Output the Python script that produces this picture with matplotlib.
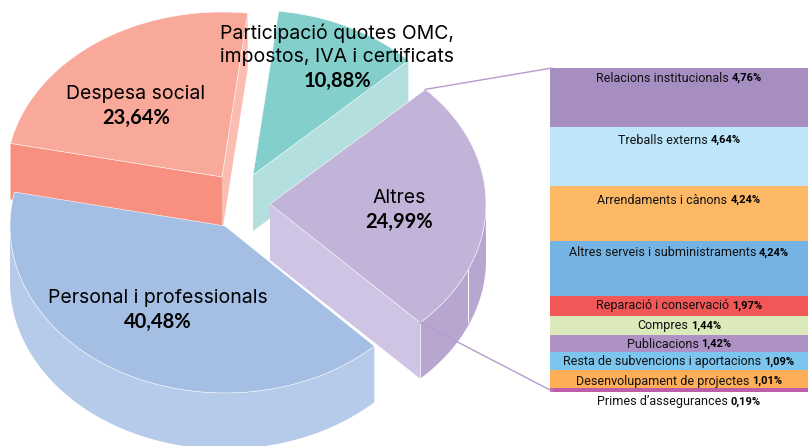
import numpy as np
import matplotlib
matplotlib.use("Agg")
import matplotlib.pyplot as plt
from matplotlib.patches import Polygon

# pie values, clockwise on screen
pie_names = ["Personal i professionals", "Despesa social", "Participació quotes OMC,\nimpostos, IVA i certificats", "Altres"]
pie_values = [40.48, 23.64, 10.88, 24.99]
pie_labels = ["40,48%", "23,64%", "10,88%", "24,99%"]

# breakdown of Altres
band_names = ["Relacions institucionals", "Treballs externs", "Arrendaments i cànons",
              "Altres serveis i subministraments", "Reparació i conservació", "Compres",
              "Publicacions", "Resta de subvencions i aportacions",
              "Desenvolupament de projectes", "Primes d’assegurances"]
band_labels = ["4,76%", "4,64%", "4,24%", "4,24%", "1,97%", "1,44%", "1,42%", "1,09%", "1,01%", "0,19%"]

# the bands in the original are not to scale, heights are read off in pixels
band_heights = [59, 59, 55, 55, 20, 19, 17, 18, 18, 4]
band_colors = ["#A68DC2", "#BEE6FA", "#FDB866", "#74B3E3", "#F25757",
               "#DCE9BB", "#AE92C6", "#7CC5EE", "#FDAE57", "#BC5FA8"]
band_text_y = [78, 140, 200, 253, 306, 326, 344, 362, 381, 402]

top_colors = ["#A4BFE3", "#F9A99A", "#82CFCC", "#C2B3D9"]
front_colors = ["#B6CAE9", "#F98F7F", "#B3E0DE", "#CFC4E3"]
centers = [(225, 226), (222, 177), (253, 175), (270, 204)]
radii = [(215, 167), (216, 165), (216, 165), (216, 165)]
start_angle = 46
depth = 56

NARROW = ["Roboto", "DejaVu Sans"]
NAME_FONT = ["Inter", "DejaVu Sans"]
VALUE_FONT = ["Lato", "DejaVu Sans"]

fig = plt.figure(figsize=(8.08, 4.46), dpi=100)
ax = fig.add_axes([0, 0, 1, 1])
ax.set_xlim(0, 808)
ax.set_ylim(446, 0)
ax.axis("off")


def arc(i, a, b):
    t = np.radians(np.linspace(a, b, 120))
    cx, cy = centers[i]
    rx, ry = radii[i]
    return np.column_stack([cx + rx * np.cos(t), cy + ry * np.sin(t)])


def shape(pts, color, z, edge="none", lw=0):
    ax.add_patch(Polygon(pts, closed=True, facecolor=color, edgecolor=edge, linewidth=lw, zorder=z))


def down(pts):
    return pts + np.array([0, depth])


angles = start_angle + np.concatenate([[0], np.cumsum(pie_values)]) * 3.6
a = list(zip(angles[:-1], angles[1:]))

# salmon slice
rim = arc(1, a[1][0], a[1][1])
apex = np.array([centers[1]])
shape(np.vstack([rim[:1], apex, down(apex), down(rim[:1])]), front_colors[1], 1)
shape(np.vstack([rim[-1:], down(rim[-1:]), down(apex), apex]), "#FCBDB1", 1)
shape(np.vstack([apex, rim]), top_colors[1], 2, "white", 0.4)

# teal slice
rim = arc(2, a[2][0], a[2][1])
apex = np.array([centers[2]])
shape(np.vstack([rim[-1:], down(rim[-1:]), down(apex), apex]), front_colors[2], 1)
shape(np.vstack([apex, rim]), top_colors[2], 2, "white", 0.4)

# blue slice
rim = arc(0, a[0][0], a[0][1])
apex = np.array([centers[0]])
side = arc(0, a[0][0], 180)
shape(np.vstack([side, down(side)[::-1]]), front_colors[0], 3)
shape(np.vstack([apex, rim]), top_colors[0], 4, "white", 0.4)

# Altres slice
rim = arc(3, a[3][0], a[3][1])
apex = np.array([centers[3]])
side = arc(3, 360, a[3][1])
first = rim[:1]
shape(np.vstack([side, down(side)[::-1]]), "#B8A6D1", 5)
shape(np.vstack([apex, down(apex), down(side[-1:]), side[-1:]]), front_colors[3], 5)
shape(np.vstack([apex, rim]), top_colors[3], 6, "white", 0.4)
sep = arc(3, 383.5, 383.5)[0]
ax.plot([sep[0], sep[0]], [sep[1], sep[1] + depth - 4], color="white", lw=0.7, zorder=6)
corner = side[-1]
ax.plot([corner[0], corner[0]], [corner[1], corner[1] + depth], color="white", lw=0.5, zorder=6)

# stacked bands
tops = 68 + np.concatenate([[0], np.cumsum(band_heights)[:-1]])
ax.bar(679, band_heights, width=258, bottom=tops, color=band_colors, zorder=2)

# leader lines
ax.plot([first[0, 0], 552], [first[0, 1], 68], color="#B59DCB", lw=1, zorder=7)
ax.plot([corner[0], 552], [corner[1], tops[-1] + 3], color="#B59DCB", lw=1, zorder=7)

# pie text
label_pos = [(158, 298, 322), (136, 94, 118), (337, 33, 81), (399, 198, 222)]
for i in range(4):
    x, y1, y2 = label_pos[i]
    lines = pie_names[i].split("\n")
    for k, line in enumerate(lines):
        ax.text(x, y1 + 24 * k, line, ha="center", va="center", fontsize=14,
                family=NAME_FONT, color="black", zorder=8)
    ax.text(x, y2, pie_labels[i], ha="center", va="center", fontsize=14.5,
            family=VALUE_FONT, weight="bold", color="black", zorder=8)

# band text, regular name and bold value centred together
fig.canvas.draw()
rend = fig.canvas.get_renderer()
for name, val, y in zip(band_names, band_labels, band_text_y):
    t1 = ax.text(0, y, name, ha="left", va="center", fontsize=9, family=NARROW, color="#111111", zorder=8)
    t2 = ax.text(0, y, val, ha="left", va="center", fontsize=8, family=NARROW, weight="bold", color="black", zorder=8)
    w1 = t1.get_window_extent(rend).width
    w2 = t2.get_window_extent(rend).width
    x0 = 679 - (w1 + w2 + 3) / 2
    t1.set_x(x0)
    t2.set_x(x0 + w1 + 3)

fig.savefig("out.png", dpi=100)
